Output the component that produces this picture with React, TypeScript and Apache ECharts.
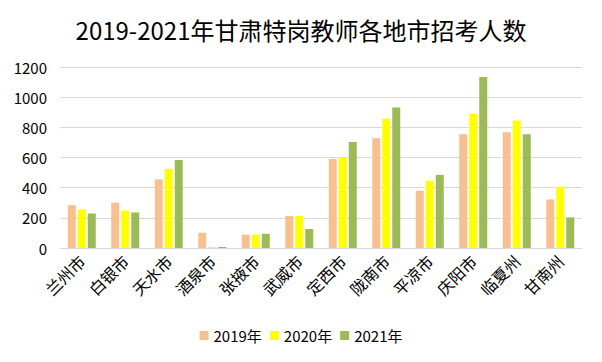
import React, { useEffect, useRef } from "react";
import * as echarts from "echarts";

const titleText = "2019-2021年甘肃特岗教师各地市招考人数";
const categories = ["兰州市", "白银市", "天水市", "酒泉市", "张掖市", "武威市", "定西市", "陇南市", "平凉市", "庆阳市", "临夏州", "甘南州"];
const seriesNames = ["2019年", "2020年", "2021年"];
const values2019 = [284, 301, 455, 101, 88, 212, 590, 728, 380, 754, 767, 322];
const values2020 = [256, 249, 525, 7, 88, 212, 599, 859, 446, 891, 846, 407];
const values2021 = [229, 236, 584, 7, 94, 126, 702, 931, 485, 1134, 754, 203];
const colors = ["#F8C090", "#FFFF00", "#9BBB59"];

const font = "'Noto Sans CJK SC', 'Microsoft YaHei', sans-serif";

export default function App() {
  const ref = useRef<HTMLDivElement>(null);
  useEffect(() => {
    if (!ref.current) return;
    const chart = echarts.init(ref.current, null, { renderer: "svg" });
    const data = [values2019, values2020, values2021];
    chart.setOption({
      animation: false,
      backgroundColor: "#ffffff",
      title: {
        text: titleText,
        left: "center",
        top: 11,
        textStyle: { fontFamily: font, fontSize: 24, fontWeight: "normal", color: "#000" },
      },
      legend: {
        bottom: 13,
        left: "center",
        icon: "rect",
        itemWidth: 9,
        itemHeight: 9,
        itemGap: 8,
        textStyle: { fontFamily: font, fontSize: 15, color: "#000" },
        data: seriesNames,
      },
      grid: { left: 59, right: 19, top: 66, bottom: 113, containLabel: false },
      xAxis: {
        type: "category",
        data: categories,
        axisLine: { lineStyle: { color: "#d9d9d9" } },
        axisTick: { show: false },
        axisLabel: { rotate: 45, interval: 0, fontFamily: font, fontSize: 16, color: "#000", margin: 10 },
      },
      yAxis: {
        type: "value",
        min: 0,
        max: 1200,
        interval: 200,
        axisLine: { show: false },
        axisTick: { show: false },
        splitLine: { lineStyle: { color: "#d9d9d9", width: 1 } },
        axisLabel: {
          fontFamily: font,
          fontSize: 15,
          color: "#000",
          margin: 13,
          formatter: (v: number) => String(v),
        },
      },
      series: seriesNames.map((name, i) => ({
        name,
        type: "bar",
        data: data[i],
        barWidth: 8,
        barGap: "25%",
        itemStyle: { color: colors[i] },
      })),
    });
    return () => chart.dispose();
  }, []);
  return (
    <div
      style={{
        width: 600,
        height: 360,
        margin: -8,
        position: "relative",
        border: "1px solid #d9d9d9",
        background: "#fff",
      }}
    >
      <div ref={ref} style={{ width: 600, height: 360, position: "absolute", left: 0, top: 0 }} />
    </div>
  );
}
